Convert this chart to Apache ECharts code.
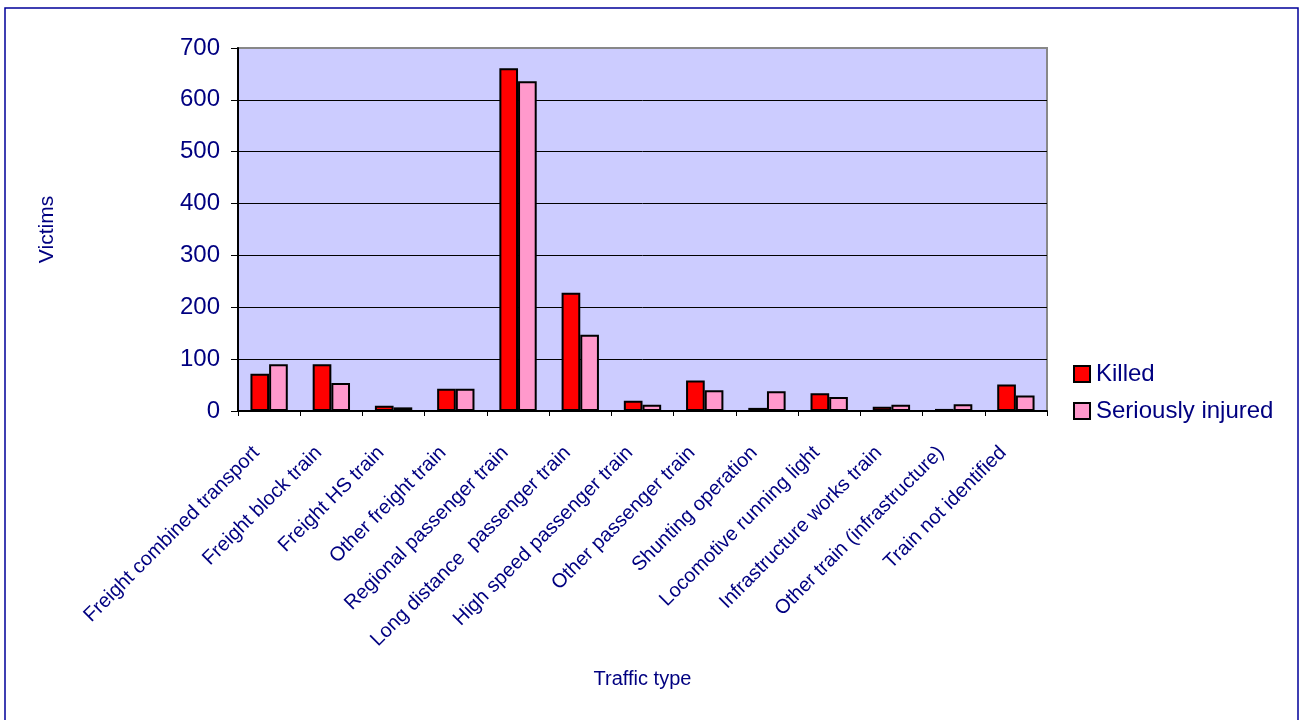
<!DOCTYPE html>
<html>
<head>
<meta charset="utf-8">
<style>
  html, body { margin: 0; padding: 0; background: #ffffff; }
  #chart { width: 1310px; height: 720px; }
</style>
<script src="https://cdn.jsdelivr.net/npm/echarts@6/dist/echarts.min.js"></script>
</head>
<body>
<div id="chart"></div>
<script>
// Victims by traffic type
const categories = [
  'Freight combined transport',
  'Freight block train',
  'Freight HS train',
  'Other freight train',
  'Regional passenger train',
  'Long distance  passenger train',
  'High speed passenger train',
  'Other passenger train',
  'Shunting operation',
  'Locomotive running light',
  'Infrastructure works train',
  'Other train (infrastructure)',
  'Train not identified'
];
const killed = [72, 90, 10, 43, 661, 228, 20, 59, 6, 34, 8, 4, 51];
const seriouslyInjured = [90, 54, 7, 43, 636, 147, 12, 40, 38, 27, 12, 13, 30];
const yTicks = [0, 100, 200, 300, 400, 500, 600, 700];

const navy = '#000080';
const font = "'Liberation Sans', Arial, sans-serif";

const chart = echarts.init(document.getElementById('chart'), null, { renderer: 'canvas' });

chart.setOption({
  animation: false,
  backgroundColor: '#ffffff',
  textStyle: { fontFamily: font },
  graphic: [{
    type: 'rect',
    shape: { x: 5, y: 8, width: 1293, height: 720 },
    style: { fill: 'none', stroke: '#000099', lineWidth: 1.5 },
    z: -1
  }],
  grid: {
    left: 238, right: 263, top: 48, bottom: 309,
    show: true,
    backgroundColor: '#ccccff',
    borderColor: '#888888',
    borderWidth: 2
  },
  legend: {
    orient: 'vertical',
    left: 1068,
    top: 357,
    itemWidth: 16,
    itemHeight: 16,
    itemGap: 13,
    icon: 'rect',
    textStyle: { color: navy, fontSize: 24, fontFamily: font, padding: [0, 0, 0, 1] },
    data: ['Killed', 'Seriously injured']
  },
  xAxis: {
    type: 'category',
    data: categories,
    name: 'Traffic type',
    nameLocation: 'middle',
    nameGap: 258,
    nameTextStyle: { color: navy, fontSize: 20, fontFamily: font },
    axisLine: { lineStyle: { color: '#000000', width: 2 } },
    axisTick: { show: true, length: 5, inside: false, lineStyle: { color: '#000000' } },
    axisLabel: {
      color: navy, fontSize: 20, fontFamily: font,
      rotate: 45, interval: 0, margin: 26,
      padding: [0, 18, 0, 0]
    },
    splitLine: { show: false }
  },
  yAxis: {
    type: 'value',
    min: yTicks[0],
    max: yTicks[yTicks.length - 1],
    interval: 100,
    name: 'Victims',
    nameLocation: 'middle',
    nameGap: 180,
    nameRotate: 90,
    nameTextStyle: { color: navy, fontSize: 21, fontFamily: font },
    axisLine: { show: true, lineStyle: { color: '#000000', width: 2 } },
    axisTick: { show: true, length: 7, lineStyle: { color: '#000000' } },
    axisLabel: { color: navy, fontSize: 24, fontFamily: font, margin: 18 },
    splitLine: { show: true, showMaxLine: false, lineStyle: { color: '#000000', width: 1 } }
  },
  series: [
    {
      name: 'Killed',
      type: 'bar',
      data: killed,
      barGap: '0%',
      barCategoryGap: '40%',
      itemStyle: { color: '#ff0000', borderColor: '#000000', borderWidth: 2 }
    },
    {
      name: 'Seriously injured',
      type: 'bar',
      data: seriouslyInjured,
      barGap: '0%',
      barCategoryGap: '40%',
      itemStyle: { color: '#ff99cc', borderColor: '#000000', borderWidth: 2 }
    }
  ]
});
</script>
</body>
</html>
